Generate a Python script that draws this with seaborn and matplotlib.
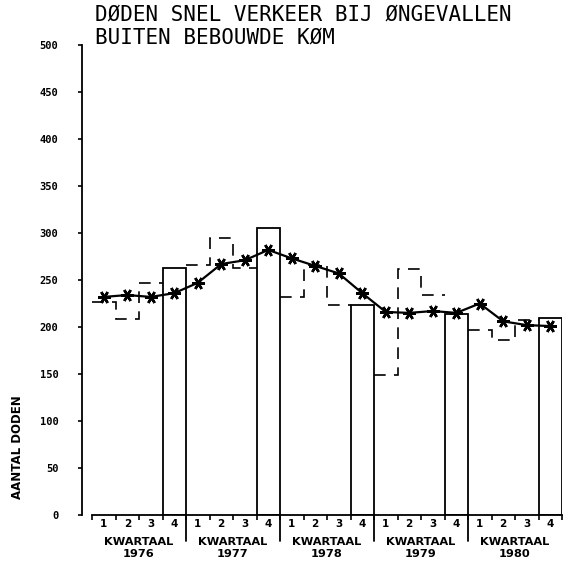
import numpy as np
import pandas as pd
import seaborn as sns
import matplotlib.pyplot as plt

years = ['1976', '1977', '1978', '1979', '1980']
quarter_labels = ['1', '2', '3', '4'] * 5
# doden per kwartaal (trap + open staaf voor het 4e kwartaal)
doden = [227, 209, 247, 263,
         266, 295, 263, 305,
         232, 266, 223, 223,
         149, 262, 234, 214,
         197, 186, 207, 210]
# voortschrijdend gemiddelde (lijn met sterretjes)
gemiddelde = [232, 234, 232, 236,
              247, 267, 271, 282,
              273, 265, 257, 236,
              216, 215, 217, 215,
              225, 206, 202, 201]
yticks = list(range(0, 501, 50))

sns.set_style('white')
plt.rcParams['font.family'] = ['DejaVu Sans']
plt.rcParams['text.color'] = 'black'
plt.rcParams['xtick.color'] = 'black'
plt.rcParams['ytick.color'] = 'black'

fig = plt.figure(figsize=(5.64, 5.64), dpi=100)
ax = fig.add_axes([92 / 564, 49 / 564, 470 / 564, 470 / 564])

n = len(doden)
df = pd.DataFrame({'pos': np.arange(n) + 0.5, 'doden': doden, 'gem': gemiddelde,
                   'jaar': np.repeat(years, 4), 'kw': quarter_labels})

# 4e kwartaal als open staaf
q4 = df[df['kw'] == '4']
ax.bar(q4['pos'], q4['doden'], width=1.0, facecolor='white', edgecolor='black',
       linewidth=1.3, zorder=2)

# kwartaal 1-3 als gestreepte trap
for jaar in years:
    d = df[(df['jaar'] == jaar) & (df['kw'] != '4')]
    edges = np.append(d['pos'].values - 0.5, d['pos'].values[-1] + 0.5)
    ax.stairs(d['doden'].values, edges, baseline=None, color='black', lw=1.2,
              linestyle=(0, (7, 5)), zorder=3)

sns.lineplot(data=df, x='pos', y='gem', color='black', lw=1.6, marker=(6, 2, 90),
             markersize=9, markeredgewidth=1.8, markeredgecolor='black', ax=ax, zorder=4)

ax.set_xlim(0, n)
ax.set_ylim(0, 500)
ax.set_xlabel('')
ax.set_ylabel('')

sns.despine(ax=ax, offset={'left': 7.2})
ax.spines['left'].set_bounds(0, 500)
ax.spines['left'].set_linewidth(1.3)
ax.spines['bottom'].set_linewidth(1.3)
ax.spines['left'].set_color('black')
ax.spines['bottom'].set_color('black')

ax.set_yticks(yticks)
ax.set_yticklabels([str(v) for v in yticks], family='DejaVu Sans Mono', fontweight='bold', fontsize=7.5)
ax.tick_params(axis='y', direction='out', length=3, width=1.2, pad=14, left=True)

ax.set_xticks(df['pos'], quarter_labels, fontweight='bold', fontsize=7.5)
ax.set_xticks(np.arange(0, n + 1), minor=True)
ax.tick_params(axis='x', which='major', length=0, pad=3)
ax.tick_params(axis='x', which='minor', direction='out', length=3.5, width=1.2, bottom=True)

# lange streepjes op de jaargrenzen
tr = ax.get_xaxis_transform()
for k in range(4, n, 4):
    ax.plot([k, k], [0, -0.055], transform=tr, clip_on=False, color='black', lw=1.3)

for i, jaar in enumerate(years):
    ax.text(4 * i + 2, -0.057, 'KWARTAAL', transform=tr, ha='center', va='center',
            fontweight='bold', fontsize=8.2)
    ax.text(4 * i + 2, -0.084, jaar, transform=tr, ha='center', va='center',
            fontweight='bold', fontsize=8.2)

fig.text(18 / 564, 1 - 447 / 564, 'AANTAL DODEN', rotation=90, ha='center', va='center',
         fontweight='bold', fontsize=8.5)

fig.text(95 / 564, 1 - 15 / 564, 'DØDEN SNEL VERKEER BIJ ØNGEVALLEN', ha='left', va='center',
         family='DejaVu Sans Mono', fontsize=15)
fig.text(95 / 564, 1 - 38 / 564, 'BUITEN BEBOUWDE KØM', ha='left', va='center',
         family='DejaVu Sans Mono', fontsize=15)

fig.savefig('out.png', dpi=100)
